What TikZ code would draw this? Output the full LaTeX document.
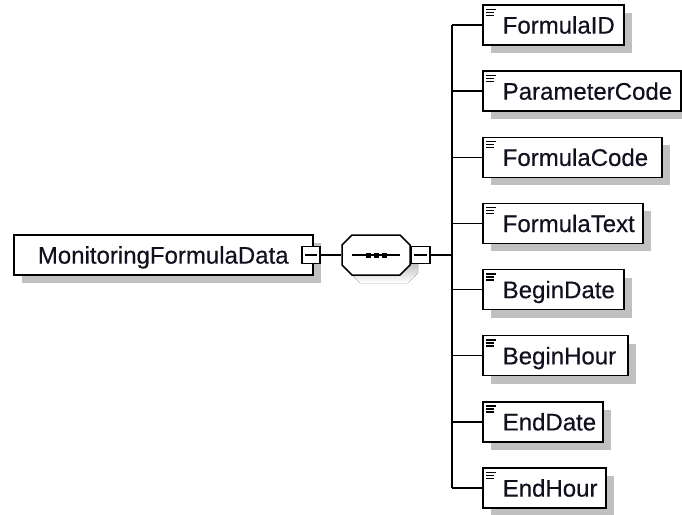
\documentclass[tikz,border=0pt]{standalone}
\usepackage{fontspec}
\setmainfont{Liberation Sans}
\newfontfamily\lbfont{Liberation Sans}[BoldFont=Liberation Sans, BoldFeatures={FakeBold=0.35}]
\usetikzlibrary{shadows,calc}
\definecolor{shade}{RGB}{192,192,192}
\definecolor{ink}{RGB}{20,15,30}
\begin{document}
\begin{tikzpicture}[x=1pt,y=-1pt,line width=1.5pt,
  txt/.style={font=\lbfont\bfseries\fontsize{24}{28}\selectfont, text=ink, text height=17.2pt, text depth=0pt},
  elem/.style={draw=black, fill=white, rectangle, minimum height=40pt, inner sep=0pt,
    drop shadow={fill=shade, opacity=1, shadow xshift=8pt, shadow yshift=-8pt}},
  lbl/.style={txt, inner sep=0pt, anchor=west},
  minusbox/.style={draw=black, fill=white, rectangle, minimum width=18pt, minimum height=17pt, inner sep=0pt,
    path picture={\draw[line width=1.2pt] ([xshift=3pt]path picture bounding box.west) -- ([xshift=-3pt]path picture bounding box.east);}},
  conn/.style={draw=black, line width=1.5pt},
  icon/.style={line width=1.3pt}
]
\useasboundingbox (0,0) rectangle (682,514);

% root element
\node[elem, txt, minimum width=299pt, anchor=west] (main) at (13,255) {MonitoringFormulaData};
\node[minusbox] (m1) at (311,255) {};

% sequence compositor
\node[minimum width=68pt, minimum height=40pt, inner sep=0pt] (seq) at (376,255) {};
\begin{scope}[shift={(seq.center)}]
  \begin{scope}[shift={(8,8)}]
    \fill[shade] (-24,-20) -- (24,-20) -- (34,-10) -- (34,10) -- (24,20) -- (-24,20) -- (-34,10) -- (-34,-10) -- cycle;
  \end{scope}
  \draw[fill=white] (-24,-20) -- (24,-20) -- (34,-10) -- (34,10) -- (24,20) -- (-24,20) -- (-34,10) -- (-34,-10) -- cycle;
  \draw (-24,0) -- (24,0);
  \fill (-10.5,-2.5) rectangle (-5.5,2.5);
  \fill (-2.5,-2.5) rectangle (2.5,2.5);
  \fill (5.5,-2.5) rectangle (10.5,2.5);
\end{scope}
\node[minusbox, minimum width=19pt] (m2) at (420.5,255) {};

\coordinate (tr) at (452,255);
\draw[conn] (m1.east) -- (seq.west);
\draw[conn] (m2.east) -- (tr);

% children
\foreach \i/\t/\w/\y in {1/FormulaID/141/25, 2/ParameterCode/198/91.1, 3/FormulaCode/179/157.3,
  4/FormulaText/160/223.4, 5/BeginDate/141/289.6, 6/BeginHour/145/355.7, 7/EndDate/120/421.8, 8/EndHour/123/488} {
  \node[elem, minimum width=\w pt, anchor=west] (c\i) at (482,\y) {};
  \node[lbl] (t\i) at ([xshift=20pt]c\i.west) {\t};
  \draw[icon] ([shift={(4pt,-5pt)}]c\i.north west) -- ++(10,0);
  \draw[icon] ([shift={(4pt,-8pt)}]c\i.north west) -- ++(8,0);
  \draw[icon] ([shift={(4pt,-11pt)}]c\i.north west) -- ++(8,0);
  \draw[conn] (c\i.west) -- (c\i.west -| tr);
}
\draw[conn] (c1.west -| tr) -- (c8.west -| tr);
\end{tikzpicture}
\end{document}
